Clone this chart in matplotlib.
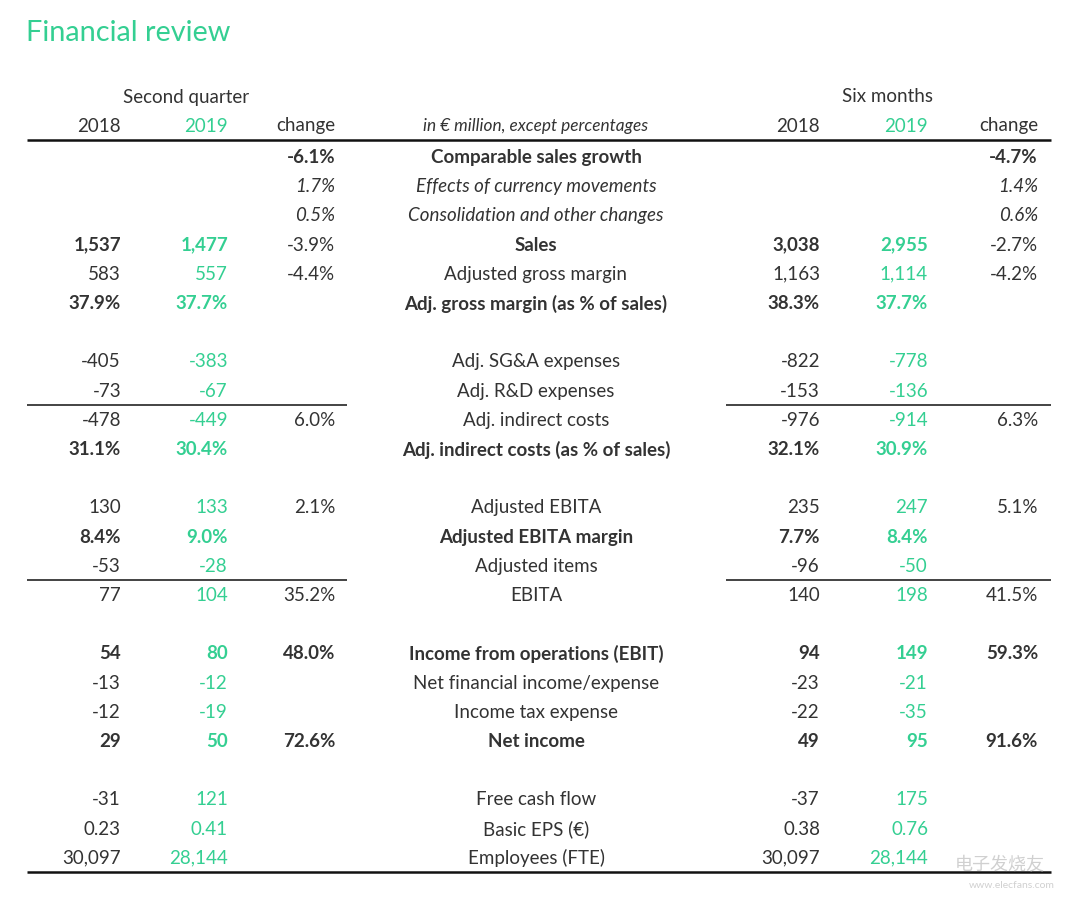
import matplotlib
matplotlib.use("Agg")
import matplotlib.pyplot as plt

plt.rcParams['font.family'] = ['Lato', 'DejaVu Sans']

GREEN = "#34cf92"
DARK = "#333333"

title = "Financial review"
left_header = "Second quarter"
right_header = "Six months"
col_headers = ["2018", "2019", "change"]
unit_note = "in \u20ac million, except percentages"

labels = ["Comparable sales growth", "Effects of currency movements",
          "Consolidation and other changes", "Sales", "Adjusted gross margin",
          "Adj. gross margin (as % of sales)", "",
          "Adj. SG&A expenses", "Adj. R&D expenses", "Adj. indirect costs",
          "Adj. indirect costs (as % of sales)", "",
          "Adjusted EBITA", "Adjusted EBITA margin", "Adjusted items", "EBITA", "",
          "Income from operations (EBIT)", "Net financial income/expense",
          "Income tax expense", "Net income", "",
          "Free cash flow", "Basic EPS (\u20ac)", "Employees (FTE)"]
row_style = ["b", "i", "i", "b", "n", "b", "n",
             "n", "n", "n", "b", "n",
             "n", "b", "n", "n", "n",
             "b", "n", "n", "b", "n",
             "n", "n", "n"]
change_style = ["b", "i", "i", "n", "n", "n", "n",
                "n", "n", "n", "n", "n",
                "n", "n", "n", "n", "n",
                "b", "n", "n", "b", "n",
                "n", "n", "n"]
q2_2018 = ["", "", "", "1,537", "583", "37.9%", "",
           "-405", "-73", "-478", "31.1%", "",
           "130", "8.4%", "-53", "77", "",
           "54", "-13", "-12", "29", "",
           "-31", "0.23", "30,097"]
q2_2019 = ["", "", "", "1,477", "557", "37.7%", "",
           "-383", "-67", "-449", "30.4%", "",
           "133", "9.0%", "-28", "104", "",
           "80", "-12", "-19", "50", "",
           "121", "0.41", "28,144"]
q2_change = ["-6.1%", "1.7%", "0.5%", "-3.9%", "-4.4%", "", "",
             "", "", "6.0%", "", "",
             "2.1%", "", "", "35.2%", "",
             "48.0%", "", "", "72.6%", "",
             "", "", ""]
h1_2018 = ["", "", "", "3,038", "1,163", "38.3%", "",
           "-822", "-153", "-976", "32.1%", "",
           "235", "7.7%", "-96", "140", "",
           "94", "-23", "-22", "49", "",
           "-37", "0.38", "30,097"]
h1_2019 = ["", "", "", "2,955", "1,114", "37.7%", "",
           "-778", "-136", "-914", "30.9%", "",
           "247", "8.4%", "-50", "198", "",
           "149", "-21", "-35", "95", "",
           "175", "0.76", "28,144"]
h1_change = ["-4.7%", "1.4%", "0.6%", "-2.7%", "-4.2%", "", "",
             "", "", "6.3%", "", "",
             "5.1%", "", "", "41.5%", "",
             "59.3%", "", "", "91.6%", "",
             "", "", ""]
subtotal_rows = [8, 14]   # thin rule drawn below these rows

W, H = 1080, 899
fig = plt.figure(figsize=(W / 100, H / 100), dpi=100)
ax = fig.add_axes([0, 0, 1, 1])
ax.set_xlim(0, W)
ax.set_ylim(H, 0)
ax.axis("off")

FS = 13.5
row0, dy = 157.5, 29.2

def props(style):
    return dict(fontweight="bold" if style == "b" else "normal",
                fontstyle="italic" if style == "i" else "normal")

ax.text(26, 33, title, fontsize=20.8, color=GREEN, va="center", ha="left")
ax.text(186, 97, left_header, fontsize=FS, color=DARK, ha="center", va="center")
ax.text(887, 97, right_header, fontsize=FS, color=DARK, ha="center", va="center")

xl = [121, 228, 335]
xr = [820, 928, 1038]
for xs in (xl, xr):
    for i, h in enumerate(col_headers):
        ax.text(xs[i], 126, h, fontsize=FS, color=GREEN if i == 1 else DARK,
                ha="right", va="center")
ax.text(536, 126, unit_note, fontsize=12.4, color=DARK, style="italic",
        ha="center", va="center")

ax.plot([27, 1051], [139.5, 139.5], color="#111111", lw=1.8, solid_capstyle="butt")

for r, lab in enumerate(labels):
    y = row0 + r * dy
    st = props(row_style[r])
    cs = props(change_style[r])
    ax.text(536, y, lab, fontsize=FS, color=DARK, ha="center", va="center", **st)
    vals = [(q2_2018[r], xl[0], DARK, st), (q2_2019[r], xl[1], GREEN, st),
            (q2_change[r], xl[2], DARK, cs),
            (h1_2018[r], xr[0], DARK, st), (h1_2019[r], xr[1], GREEN, st),
            (h1_change[r], xr[2], DARK, cs)]
    for txt, x, c, p in vals:
        if txt:
            ax.text(x, y, txt, fontsize=FS, color=c, ha="right", va="center", **p)

for r in subtotal_rows:
    y = row0 + r * dy + 13.5
    ax.plot([27, 347], [y, y], color="#111111", lw=1.1, solid_capstyle="butt")
    ax.plot([726, 1051], [y, y], color="#111111", lw=1.1, solid_capstyle="butt")

ax.plot([27, 1051], [872, 872], color="#111111", lw=1.8, solid_capstyle="butt")

# watermark
ax.text(1000, 864, "\u7535\u5b50\u53d1\u70e7\u53cb", fontsize=13, color="#d0d0d0",
        ha="center", va="center", family=["Noto Sans CJK SC", "DejaVu Sans"], style="italic")
ax.text(1012, 886, "www.elecfans.com", fontsize=7.5, color="#d0d0d0",
        ha="center", va="center")

fig.savefig("out.png", dpi=100, facecolor="white")
